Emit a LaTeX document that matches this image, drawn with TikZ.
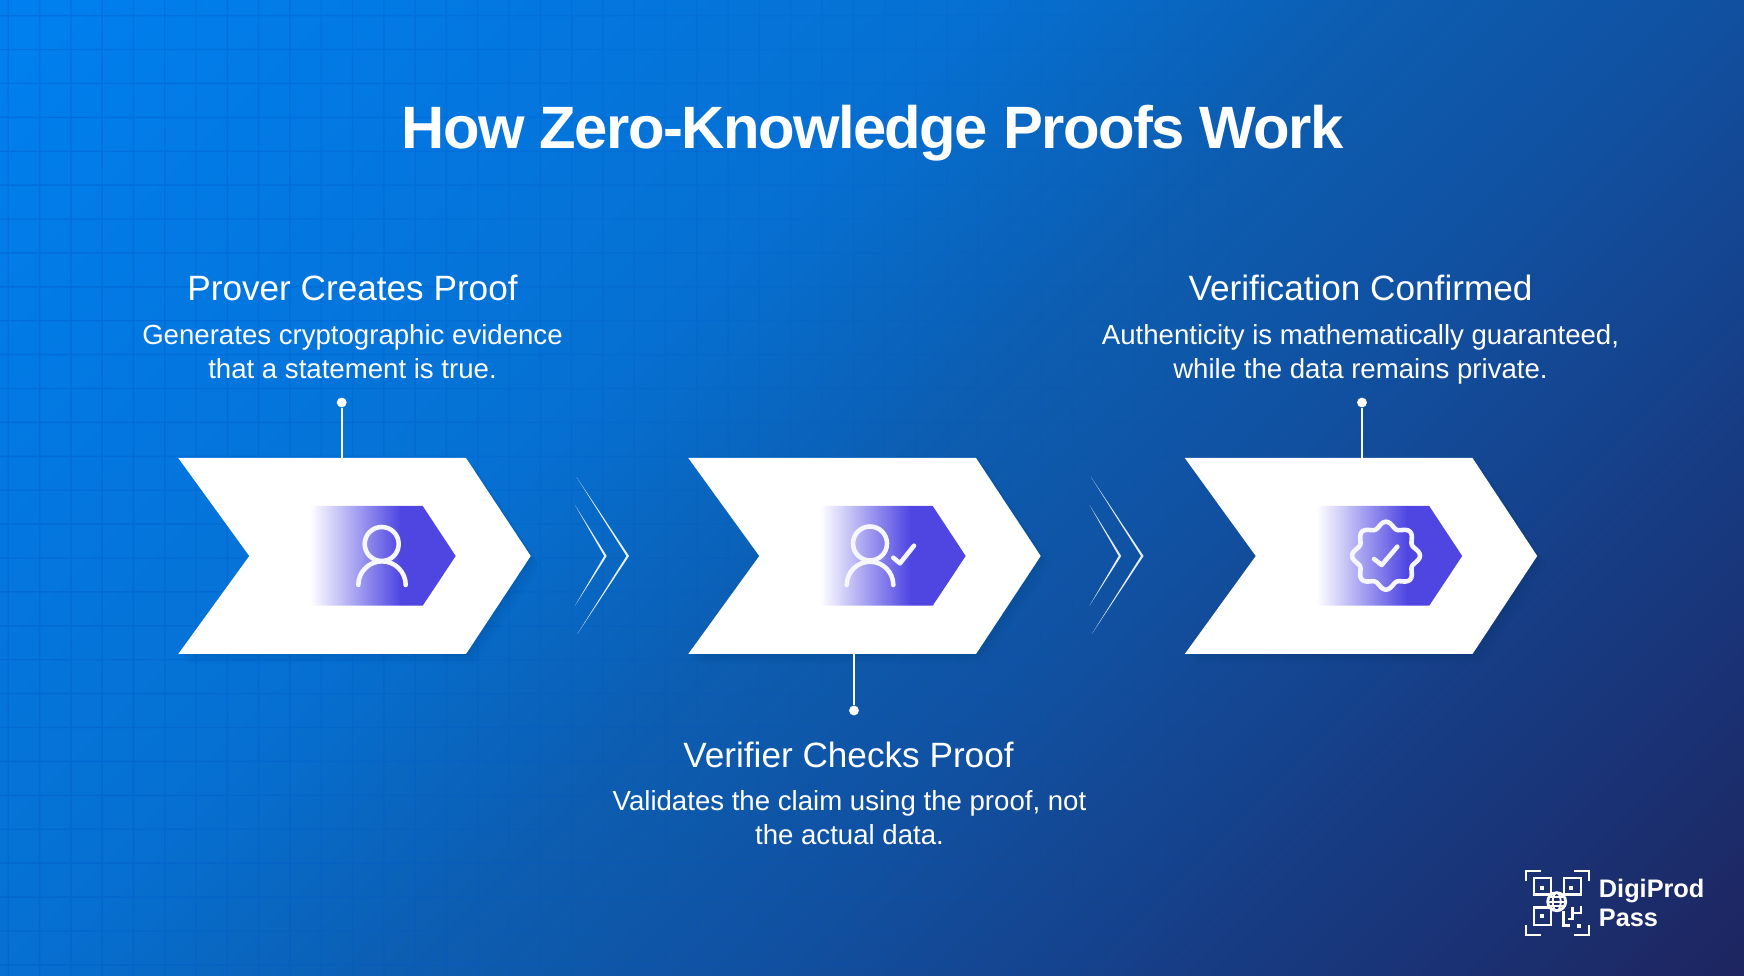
\documentclass[tikz,border=0pt]{standalone}
\usepackage{fontspec}
\setmainfont{Liberation Sans}
\usetikzlibrary{fadings}
\definecolor{tagblue}{HTML}{4F46E2}
\definecolor{gridblue}{HTML}{0058C8}
\definecolor{logoback}{HTML}{1B2D6C}
\definecolor{bgA}{HTML}{0080F0}
\definecolor{bgB}{HTML}{0670D2}
\definecolor{bgC}{HTML}{0C5EB2}
\definecolor{bgD}{HTML}{1150A0}
\definecolor{bgE}{HTML}{173C84}
\definecolor{bgF}{HTML}{1E2560}
\pgfdeclarehorizontalshading{pageshade}{100bp}{color(0bp)=(bgA); color(26bp)=(bgA); color(43.3bp)=(bgB); color(50bp)=(bgC); color(56.7bp)=(bgD); color(64.4bp)=(bgE); color(74bp)=(bgF); color(100bp)=(bgF)}
\pgfdeclarehorizontalshading{tagshade}{100bp}{color(0bp)=(white); color(25bp)=(white); color(56bp)=(tagblue); color(100bp)=(tagblue)}
\tikzfading[name=gridfade, left color=transparent!62, right color=transparent!100]
\tikzset{titletext/.style = {text=white, font=\bfseries\fontsize{17}{20}\selectfont\addfontfeature{LetterSpace=-2.6}},
         headtext/.style = {text=white, font=\fontsize{10}{12}\selectfont},
         desctext/.style = {text=white, align=center, font=\fontsize{7.85}{9.53}\selectfont},
         logotext/.style = {text=white, align=left, font=\bfseries\fontsize{7.2}{8.25}\selectfont},
         dotmark/.style = {circle, fill=white, inner sep=0pt, minimum size=2.8pt},
         stem/.style = {draw=white, line width=0.6pt},
         iconline/.style = {draw=white!95!tagblue, line width=1.3pt, line cap=round, line join=round},
         logoline/.style = {draw=white, line width=0.55pt},
         qrline/.style = {draw=white, line width=0.8pt}}

\begin{document}
\begin{tikzpicture}[x=0.01cm, y=-0.01cm]
  \useasboundingbox (0, 0) rectangle (1744, 976);

  \begin{scope}
    \clip (0, 0) rectangle (1744, 976);
    \shade [shading=pageshade, shading angle=-45] (-128, -512) rectangle (1872, 1488);
    \fill [gridblue, path fading=gridfade]
    foreach \k in {0, ..., 39} {({8.3 + 31.3 * \k - 0.7}, 0) rectangle ++(1.4, 976)}
    foreach \k in {0, ..., 28} {(0, {15.7 + 33.9 * \k - 0.7}) rectangle ++(1250, 1.4)};
  \end{scope}

  \node [titletext] (title) at (872.6, 133) {How Zero-Knowledge Proofs Work};

  % three steps
  \foreach \n/\dx in {A/0, B/510, C/1006.5} {
    \begin{scope}[shift={(\dx, 0)}]
      \foreach \s in {2, 4, ..., 10} {
        \fill [black, opacity=0.012] (178.3 + \s, 458 + \s) -- (466 + \s, 458 + \s) -- (530.7 + \s, 556 + \s) --
        (466 + \s, 654 + \s) -- (178.3 + \s, 654 + \s) -- (249.3 + \s, 556 + \s) -- cycle;
      }
      \fill [white] (178.3, 458) -- (466, 458) -- (530.7, 556) -- (466, 654) --
      (178.3, 654) -- (249.3, 556) -- cycle;
      \shade [shading=tagshade] (310, 506) -- (422.7, 506) -- (455.7, 556) --
      (422.7, 605.7) -- (310, 605.7) -- cycle;
      \coordinate (top\n) at (0, 458);
      \coordinate (bot\n) at (0, 654);
    \end{scope}
  }

  % icons
  \draw [iconline] (381.7, 544) circle (17);
  \draw [iconline] (358.3, 585) arc (180:360:23.7);

  \draw [iconline] (870, 543.5) circle (17);
  \draw [iconline] (846.7, 585) arc (180:360:23.3);
  \draw [iconline] (893.3, 557.7) -- (900, 563.3) -- (914, 545.7);

  \draw [iconline] plot [domain=0:360, samples=97, smooth] ({1386 + (31 + 3 * cos(8 * \x)) * cos(\x)}, {555.7 + (31 + 3 * cos(8 * \x)) * sin(\x)}) -- cycle;
  \draw [iconline] (1374, 559) -- (1381.7, 565) -- (1397.3, 546.7);

  % double chevrons between the steps
  \foreach \dx in {0, 514.5} {
    \begin{scope}[shift={(\dx, 0)}]
      \fill [white, opacity=0.9] (576.7, 477.3) -- (629, 556) -- (577.3, 634) -- (626.5, 556) -- cycle;
      \fill [white, opacity=0.9] (575, 505) -- (606.7, 556) -- (575, 605.7) -- (604.2, 556) -- cycle;
    \end{scope}
  }

  % callouts
  \node [dotmark] (dotA) at (341.7, 402.5) {};
  \node [dotmark] (dotB) at (854, 710.5) {};
  \node [dotmark] (dotC) at (1362, 402.5) {};
  \draw [stem] (dotA) -- (dotA |- topA);
  \draw [stem] (dotB) -- (dotB |- botB);
  \draw [stem] (dotC) -- (dotC |- topC);

  \node [headtext] (headA) at (352.5, 287.5) {Prover Creates Proof};
  \node [desctext] (descA) at (352.5, 351.5) {Generates cryptographic evidence\\that a statement is true.};
  \node [headtext] (headB) at (848.5, 754.5) {Verifier Checks Proof};
  \node [desctext] (descB) at (849.5, 817.5) {Validates the claim using the proof, not\\the actual data.};
  \node [headtext] (headC) at (1360.5, 287.5) {Verification Confirmed};
  \node [desctext] (descC) at (1360.5, 354.3) {Authenticity is mathematically guaranteed,\\while the data remains private.};

  % logo
  \node [logotext, anchor=west] (logoname) at (1586.5, 903) {DigiProd\\Pass};
  \draw [logoline] (1526, 881) -- (1526, 871) -- (1541, 871);
  \draw [logoline] (1574, 871) -- (1589, 871) -- (1589, 881);
  \draw [logoline] (1526, 925) -- (1526, 935) -- (1541, 935);
  \draw [logoline] (1574, 935) -- (1589, 935) -- (1589, 925);
  \draw [qrline] (1534, 878) rectangle (1551, 894.5);
  \draw [qrline] (1564, 878) rectangle (1581, 894.5);
  \draw [qrline] (1534, 907.5) rectangle (1551, 925);
  \fill [white] (1540.3, 885.7) rectangle ++(4, 4);
  \fill [white] (1568.7, 885.7) rectangle ++(4, 4);
  \fill [white] (1540.3, 913.7) rectangle ++(4, 4);
  \fill [white] (1577, 924) rectangle ++(4, 4);
  \draw [qrline] (1563.5, 911) -- (1563.5, 925.5) -- (1570, 925.5);
  \draw [qrline] (1572.5, 907) -- (1572.5, 919) -- (1568, 919);
  \draw [qrline] (1572.5, 913) -- (1581, 913) -- (1581, 906);
  \draw [qrline, fill=logoback] (1556.7, 901.7) circle (9);
  \draw [logoline] (1556.7, 901.7) ellipse (4 and 9);
  \draw [logoline] (1547.7, 901.7) -- (1565.7, 901.7);
  \draw [logoline] (1549, 897.4) -- (1564.4, 897.4);
  \draw [logoline] (1549, 906) -- (1564.4, 906);
\end{tikzpicture}
\end{document}
